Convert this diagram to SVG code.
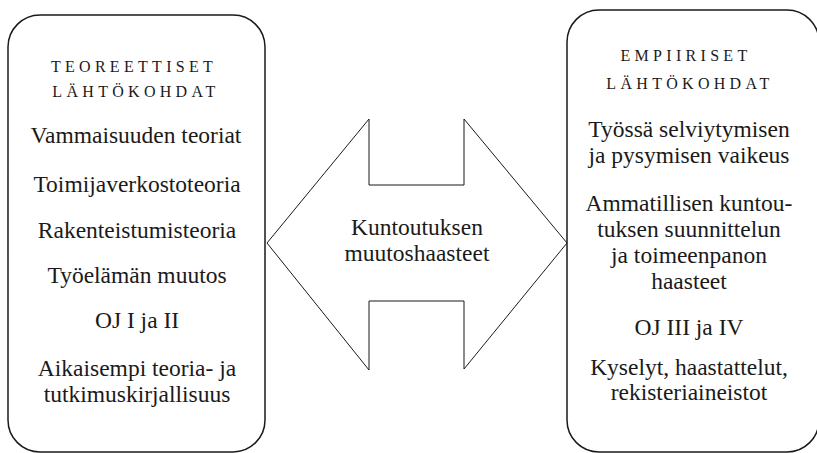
<svg xmlns="http://www.w3.org/2000/svg" width="817" height="453" viewBox="0 0 817 453">
  <style>
    .box { fill: #ffffff; stroke: #1a1a1a; stroke-width: 1.5; }
    .arrow { fill: #ffffff; stroke: #1a1a1a; stroke-width: 1; stroke-linejoin: miter; }
    text { font-family: 'Liberation Serif', 'Noto Serif', 'DejaVu Serif', 'Times New Roman', serif; fill: #1a1a1a; text-anchor: middle; }
    .head { font-size: 16px; letter-spacing: 4.3px; }
    .item { font-size: 23.5px; }
  </style>
  <rect width="817" height="453" fill="#ffffff"/>

  <!-- theoretical starting points -->
  <g id="theory">
    <rect class="box" x="8" y="15" width="257" height="437" rx="32" ry="32"/>
    <text class="head" x="134" y="72">TEOREETTISET</text>
    <text class="head" x="136" y="97">LÄHTÖKOHDAT</text>
    <text class="item" x="136" y="143">Vammaisuuden teoriat</text>
    <text class="item" x="137" y="192">Toimijaverkostoteoria</text>
    <text class="item" x="137" y="238">Rakenteistumisteoria</text>
    <text class="item" x="137" y="283">Työelämän muutos</text>
    <text class="item" x="137" y="328">OJ I ja II</text>
    <text class="item" x="137" y="376">Aikaisempi teoria- ja</text>
    <text class="item" x="137" y="402">tutkimuskirjallisuus</text>
  </g>

  <!-- central double arrow -->
  <g id="challenges">
    <polygon class="arrow" points="267,243 369,119 369,185 464,185 464,119 567,243 464,369 464,301 369,301 369,370"/>
    <text class="item" x="417" y="235">Kuntoutuksen</text>
    <text class="item" x="417" y="261">muutoshaasteet</text>
  </g>

  <!-- empirical starting points -->
  <g id="empirical">
    <rect class="box" x="567" y="10" width="252" height="442" rx="32" ry="32"/>
    <text class="head" x="686" y="61">EMPIIRISET</text>
    <text class="head" x="690" y="89">LÄHTÖKOHDAT</text>
    <text class="item" x="689" y="137">Työssä selviytymisen</text>
    <text class="item" x="689" y="163">ja pysymisen vaikeus</text>
    <text class="item" x="689" y="211">Ammatillisen kuntou-</text>
    <text class="item" x="689" y="237">tuksen suunnittelun</text>
    <text class="item" x="689" y="263">ja toimeenpanon</text>
    <text class="item" x="689" y="289">haasteet</text>
    <text class="item" x="689" y="335">OJ III ja IV</text>
    <text class="item" x="689" y="375">Kyselyt, haastattelut,</text>
    <text class="item" x="689" y="400">rekisteriaineistot</text>
  </g>
</svg>
